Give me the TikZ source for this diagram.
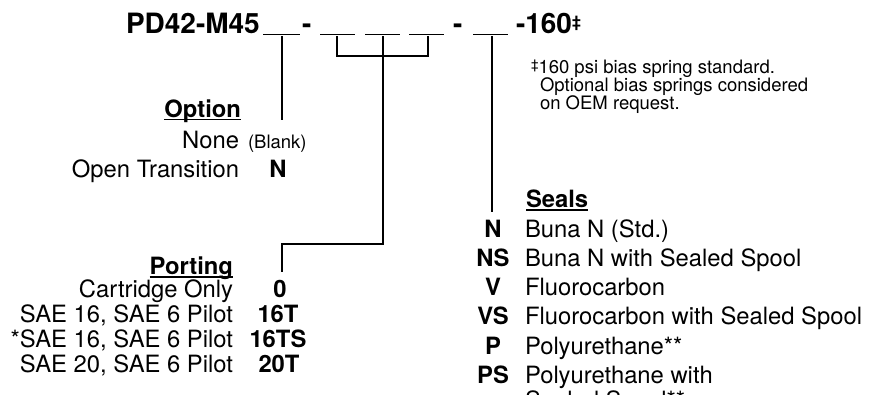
\documentclass[tikz,border=0pt]{standalone}
\usepackage{fontspec}
\setmainfont{TeX Gyre Heros}
\begin{document}
\begin{tikzpicture}[x=1pt,y=-1pt,
  every node/.style={inner sep=0pt,outer sep=0pt,text=black},
  titlefont/.style={font=\fontsize{28}{32}\selectfont\bfseries},
  body/.style={font=\fontsize{23.8}{28}\selectfont},
  codefont/.style={font=\fontsize{23.8}{28}\selectfont\bfseries},
  smallfont/.style={font=\fontsize{18.5}{22}\selectfont},
  footfont/.style={font=\fontsize{18.5}{18}\selectfont},
  wire/.style={line width=1.1pt,black},
  blank/.style={line width=1.5pt,black},
  uline/.style={line width=1.3pt,black}]
\path[use as bounding box] (0,0) rectangle (882,394);
\clip (0,0) rectangle (882,394);

% ---- part number ----
\node[titlefont,anchor=base west] (pn) at (126,33) {PD42-M45};
\node[titlefont,anchor=base west] (d1) at (302,33) {-};
\node[titlefont,anchor=base west] (d2) at (453,33) {-};
\node[titlefont,anchor=base west] (sfx) at (516,33) {-160\raisebox{6pt}{\fontsize{16}{16}\selectfont ‡}};

\coordinate (u1a) at (263,34.5); \coordinate (u1b) at (300,34.5);
\coordinate (u2a) at (320,34.5); \coordinate (u2b) at (355,34.5);
\coordinate (u3a) at (365,34.5); \coordinate (u3b) at (400,34.5);
\coordinate (u4a) at (409,34.5); \coordinate (u4b) at (444,34.5);
\coordinate (u5a) at (473,34.5); \coordinate (u5b) at (508,34.5);
\foreach \i in {1,...,5} \draw[blank] (u\i a) -- (u\i b);

% ---- footnote ----
\node[footfont,anchor=base west] (f1) at (531,73) {\raisebox{4pt}{\fontsize{13.5}{13.5}\selectfont ‡}160 psi bias spring standard.};
\node[footfont,anchor=base west] (f2) at (540,91) {Optional bias springs considered};
\node[footfont,anchor=base west] (f3) at (540,109) {on OEM request.};

% ---- connectors ----
\coordinate (o1) at (282,36); \coordinate (o2) at (282,120);
\draw[wire] (o1) -- (o2);
\coordinate (p1) at (337,36); \coordinate (p2) at (428,36);
\coordinate (pm) at (383,36); \coordinate (pl) at (282,244); \coordinate (pe) at (282,272);
\draw[wire] (p1) -- ++(0,20) -| (p2);
\draw[wire] (pm) |- (pl) -- (pe);
\coordinate (s1) at (492,36); \coordinate (s2) at (492,212);
\draw[wire] (s1) -- (s2);

% ---- Option ----
\node[codefont,anchor=base east] (oph) at (241,117) {Option};
\draw[uline] ([yshift=-2.5pt]oph.base west) -- ([yshift=-2.5pt]oph.base east);
\node[body,anchor=base east] (op1) at (239,148) {None};
\node[smallfont,anchor=base west] (op1c) at (248,148) {(Blank)};
\node[body,anchor=base east] (op2) at (239,177) {Open Transition};
\node[codefont,anchor=base] (op2c) at (278,177) {N};

% ---- Porting ----
\node[codefont,anchor=base east] (poh) at (233,274) {Porting};
\draw[uline] ([yshift=-3pt]poh.base west) -- ([yshift=-3pt]poh.base east);
\node[body,anchor=base east] (po1) at (233,297) {Cartridge Only};
\node[codefont,anchor=base] (po1c) at (280,297) {0};
\node[body,anchor=base east] (po2) at (233,322) {SAE 16, SAE 6 Pilot};
\node[codefont,anchor=base] (po2c) at (278,322) {16T};
\node[body,anchor=base east] (po3) at (233,347) {*SAE 16, SAE 6 Pilot};
\node[codefont,anchor=base] (po3c) at (278,347) {16TS};
\node[body,anchor=base east] (po4) at (233,372) {SAE 20, SAE 6 Pilot};
\node[codefont,anchor=base] (po4c) at (279,372) {20T};

% ---- Seals ----
\node[codefont,anchor=base west] (seh) at (526,207) {Seals};
\draw[uline] ([yshift=-3pt]seh.base west) -- ([yshift=-3pt]seh.base east);
\node[codefont,anchor=base] (se1c) at (493,237) {N};
\node[body,anchor=base west] (se1) at (525,237) {Buna N (Std.)};
\node[codefont,anchor=base] (se2c) at (493,266.5) {NS};
\node[body,anchor=base west] (se2) at (525,266.5) {Buna N with Sealed Spool};
\node[codefont,anchor=base] (se3c) at (493,295.5) {V};
\node[body,anchor=base west] (se3) at (525,295.5) {Fluorocarbon};
\node[codefont,anchor=base] (se4c) at (493,324.5) {VS};
\node[body,anchor=base west] (se4) at (525,324.5) {Fluorocarbon with Sealed Spool};
\node[codefont,anchor=base] (se5c) at (493,354) {P};
\node[body,anchor=base west] (se5) at (525,354) {Polyurethane**};
\node[codefont,anchor=base] (se6c) at (493,383) {PS};
\node[body,anchor=base west] (se6) at (525,383) {Polyurethane with};
\node[body,anchor=base west] (se6b) at (525,408) {Sealed Spool**};
\end{tikzpicture}
\end{document}
